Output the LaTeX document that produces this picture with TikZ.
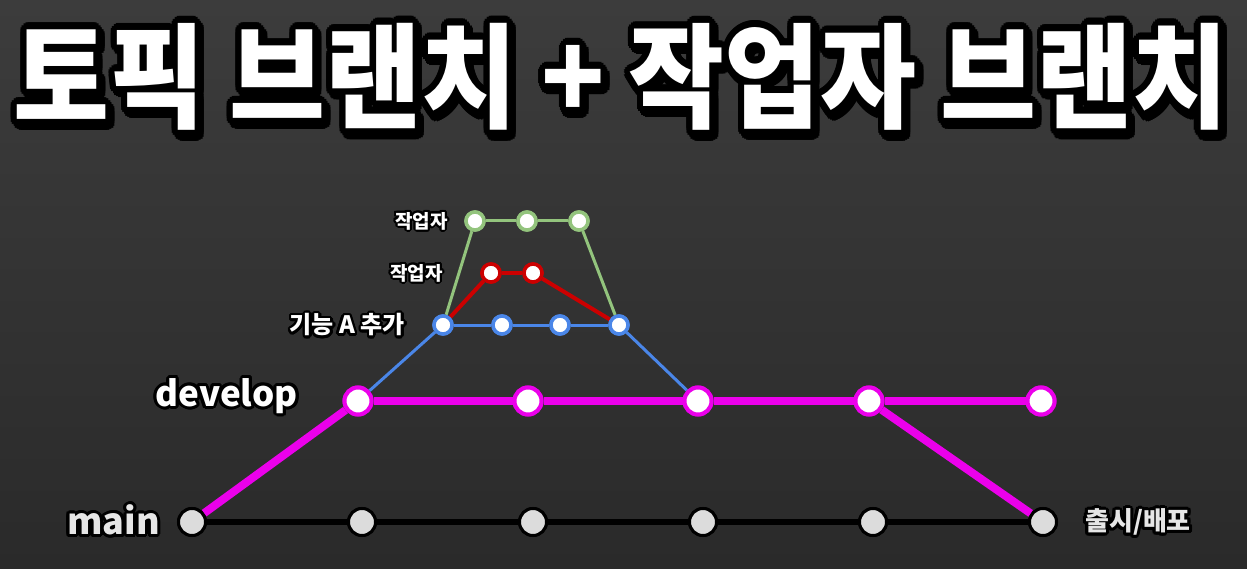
\documentclass[tikz,border=0pt]{standalone}
\usepackage{fontspec}
\newfontfamily\kr{Noto Sans CJK KR}
\definecolor{bgtop}{RGB}{60,60,60}
\definecolor{bgbot}{RGB}{42,42,42}
\definecolor{mag}{RGB}{235,0,235}
\definecolor{bluec}{RGB}{74,134,232}
\definecolor{redc}{RGB}{204,0,0}
\definecolor{greenc}{RGB}{147,196,125}
\definecolor{maingray}{RGB}{220,220,220}
\definecolor{lbl}{RGB}{230,230,230}
% outlined text: #1 radius, #2 text
\newcommand\olt[2]{%
  \foreach \a in {0,20,...,340}{%
    \pgfmathsetlengthmacro\dx{#1*cos(\a)}%
    \pgfmathsetlengthmacro\dy{#1*sin(\a)}%
    \rlap{\hspace*{\dx}\raisebox{\dy}{\textcolor{black}{#2}}}}%
  #2}
\newcommand\oltshadow[4]{% #1 radius, #2 sx, #3 sy, #4 text
  \foreach \a in {0,20,...,340}{%
    \pgfmathsetlengthmacro\dx{#1*cos(\a)+#2}%
    \pgfmathsetlengthmacro\dy{#1*sin(\a)-#3}%
    \rlap{\hspace*{\dx}\raisebox{\dy}{\textcolor{black}{#4}}}}%
  \olt{#1}{#4}}
\tikzset{
  maindot/.style={circle, fill=maingray, draw=black, line width=3pt, minimum size=27pt, inner sep=0pt},
  devdot/.style={circle, fill=white, draw=mag, line width=4pt, minimum size=27pt, inner sep=0pt},
  bdot/.style={circle, fill=white, draw=bluec, line width=3.5pt, minimum size=18pt, inner sep=0pt},
  rdot/.style={circle, fill=white, draw=redc, line width=3.5pt, minimum size=18pt, inner sep=0pt},
  gdot/.style={circle, fill=white, draw=greenc, line width=3.5pt, minimum size=18pt, inner sep=0pt},
  mainline/.style={draw=black, line width=6pt},
  devline/.style={draw=mag, line width=8pt},
  bline/.style={draw=bluec, line width=3pt},
  rline/.style={draw=redc, line width=4pt},
  gline/.style={draw=greenc, line width=3pt},
  lab/.style={inner sep=0pt, text=white, font=\kr\bfseries},
}
\begin{document}
\begin{tikzpicture}[x=1pt,y=-1pt]
\shade[top color=bgtop, bottom color=bgbot] (0,0) rectangle (1247,569);
\useasboundingbox (0,0) rectangle (1247,569);
% title
\node[lab, font=\kr\bfseries\fontsize{114}{114}\selectfont] (title) at (621,79)
  {\scalebox{0.915}[1]{\oltshadow{7pt}{3pt}{4pt}{토픽 브랜치 + 작업자 브랜치}}};
% main row
\foreach \i/\x in {1/192,2/362,3/533,4/703,5/873,6/1043}
  \node[maindot] (m\i) at (\x,522) {};
% develop row
\foreach \i/\x in {1/358,2/528,3/698,4/869,5/1041}
  \node[devdot] (d\i) at (\x,401) {};
% feature rows
\foreach \i/\x in {1/443,2/502,3/560,4/619}
  \node[bdot] (b\i) at (\x,325) {};
\foreach \i/\x in {1/491,2/533}
  \node[rdot] (r\i) at (\x,273) {};
\foreach \i/\x in {1/475,2/527,3/579}
  \node[gdot] (g\i) at (\x,221) {};
% connectors
\path[mainline] (m1) -- (m2) -- (m3) -- (m4) -- (m5) -- (m6);
\path[devline] (m1) -- (d1);
\path[devline] (d1) -- (d2) -- (d3) -- (d4) -- (d5);
\path[devline] (d4) -- (m6);
\path[bline] (d1) -- (b1);
\path[bline] (b1) -- (b2) -- (b3) -- (b4);
\path[bline] (b4) -- (d3);
\path[rline] (b1) -- (r1);
\path[rline] (r1) -- (r2);
\path[rline] (r2) -- (b4);
\path[gline] (b1) -- (g1);
\path[gline] (g1) -- (g2) -- (g3);
\path[gline] (g3) -- (b4);
% dots again, above the connectors
\foreach \i/\x in {1/192,2/362,3/533,4/703,5/873,6/1043}
  \node[maindot] at (\x,522) {};
\foreach \i/\x in {1/358,2/528,3/698,4/869,5/1041}
  \node[devdot] at (\x,401) {};
\foreach \i/\x in {1/443,2/502,3/560,4/619}
  \node[bdot] at (\x,325) {};
\foreach \i/\x in {1/491,2/533}
  \node[rdot] at (\x,273) {};
\foreach \i/\x in {1/475,2/527,3/579}
  \node[gdot] at (\x,221) {};
% labels
\node[lab, anchor=east, font=\kr\bfseries\fontsize{19}{19}\selectfont] (lg) at (448,221) {\olt{2pt}{작업자}};
\node[lab, anchor=east, font=\kr\bfseries\fontsize{19}{19}\selectfont] (lr) at (443,273) {\olt{2pt}{작업자}};
\node[lab, anchor=east, font=\kr\bfseries\fontsize{24}{24}\selectfont] (lb) at (405,325) {\olt{2.5pt}{기능 A 추가}};
\node[lab, anchor=east, font=\kr\bfseries\fontsize{35}{35}\selectfont] (ld) at (298,396) {\olt{3pt}{develop}};
\node[lab, anchor=east, text=lbl, font=\kr\bfseries\fontsize{36}{36}\selectfont] (lm) at (160,520) {\olt{3pt}{main}};
\node[lab, anchor=west, text=lbl, font=\kr\bfseries\fontsize{26}{26}\selectfont] (lrel) at (1085,522) {\olt{3pt}{출시/배포}};
\end{tikzpicture}
\end{document}
